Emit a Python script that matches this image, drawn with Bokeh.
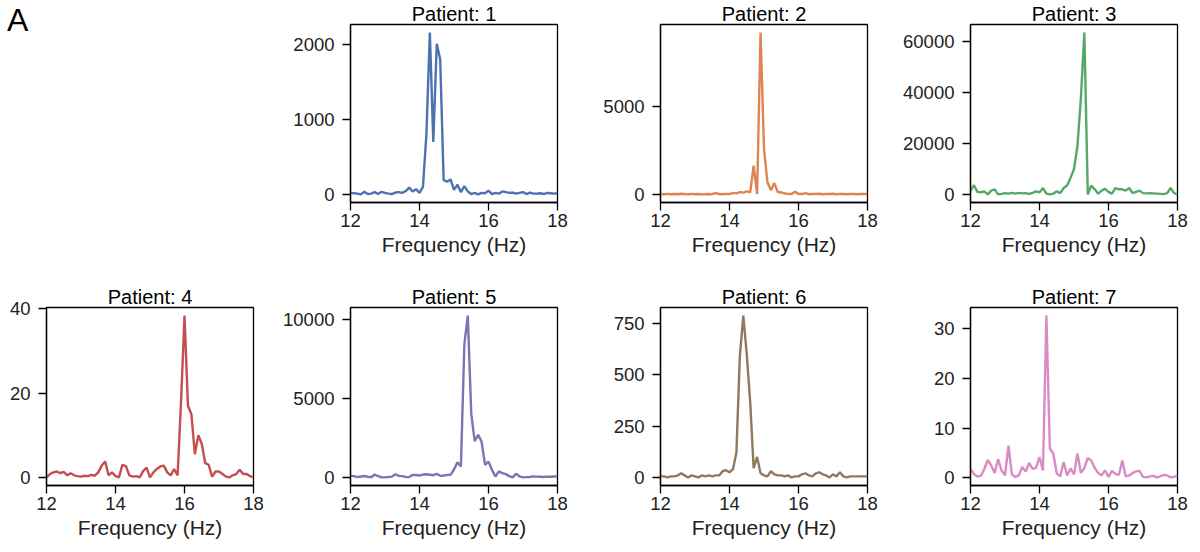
from bokeh.plotting import figure
from bokeh.layouts import column, row
from bokeh.models import Range1d, FixedTicker, Div
from bokeh.embed import file_html
from bokeh.resources import INLINE

# ---------------- data ----------------
freq = [round(12 + 0.1 * i, 1) for i in range(61)]

patient_1 = [20, 15, 10, 0, 35, 5, 10, 30, 5, 35,
             20, 10, 5, 25, 30, 20, 45, 90, 40, 70,
             20, 100, 800, 2160, 700, 2010, 1800, 190, 170, 200,
             60, 130, 30, 110, 40, 5, 20, 0, 20, 15,
             50, 5, 20, 10, 40, 30, 20, 25, 10, 20,
             30, 5, 25, 10, 10, 15, 5, 20, 15, 10,
             15]

patient_2 = [30, 20, 40, 20, 30, 20, 50, 30, 20, 40,
             20, 30, 10, 20, 30, 20, 90, 30, 20, 40,
             30, 100, 70, 140, 110, 180, 120, 1650, 30, 9200,
             2600, 700, 250, 650, 150, 120, 60, 40, 30, 160,
             40, 30, 80, 20, 40, 30, 50, 20, 40, 30,
             50, 20, 40, 30, 20, 30, 40, 20, 30, 40,
             30]

patient_3 = [1500, 3600, 1000, 800, 1200, 0, 1500, 2000, 0, 200,
             500, 300, 600, 300, 600, 400, 500, 200, 600, 1200,
             800, 2500, 300, 0, 300, 1200, 500, 2500, 3500, 6500,
             10000, 19000, 38000, 63600, 0, 3500, 2000, 300, 1500, 2200,
             1000, 300, 2500, 2000, 2000, 1500, 2500, 500, 1000, 1500,
             500, 400, 500, 400, 300, 200, 100, 500, 2500, 500,
             0]

patient_4 = [0.0, 0.8, 1.2, 1.4, 1.0, 1.3, 0.5, 1.0, 0.5, 0.3,
             0.2, 0.4, 0.3, 0.6, 0.4, 1.2, 2.8, 3.8, 0.5, 1.2,
             0.3, 0.0, 3.0, 2.7, 0.5, 0.2, 0.3, 0.0, 1.5, 2.3,
             0.0, 1.2, 2.0, 2.6, 2.8, 1.2, 0.5, 2.0, 0.5, 18.0,
             38.4, 17.0, 15.0, 5.5, 10.0, 8.0, 3.4, 3.0, 0.2, 1.4,
             1.4, 0.8, 0.2, 0.0, 0.5, 0.8, 1.8, 0.8, 0.8, 0.3,
             0.0]

patient_5 = [100, 80, 20, 60, 90, 40, 10, 180, 80, 10,
             0, 30, 50, 200, 100, 80, 30, 20, 160, 150,
             120, 180, 200, 170, 140, 230, 100, 120, 150, 160,
             500, 960, 690, 8430, 10250, 4040, 2300, 2700, 2250, 800,
             1000, 480, 60, 380, 270, 210, 80, 0, 230, 60,
             0, 20, 30, 60, 50, 40, 30, 50, 40, 60,
             50]

patient_6 = [5, 5, 0, 5, 5, 10, 20, 10, 0, 10,
             5, 0, 10, 5, 10, 5, 10, 10, 30, 35,
             25, 40, 120, 590, 788, 600, 367, 45, 100, 20,
             10, 5, 30, 15, 10, 10, 5, 10, 0, 5,
             5, 15, 20, 10, 5, 20, 25, 15, 10, 0,
             15, 5, 25, 5, 0, 5, 5, 5, 5, 5,
             5]

patient_7 = [1.8, 0.8, 0.3, 0.4, 1.8, 3.6, 2.5, 1.0, 3.8, 1.5,
             0.5, 6.5, 0.7, 0.2, 0.5, 2.2, 1.3, 3.0, 1.8, 2.0,
             4.2, 1.5, 32.6, 5.9, 4.9, 0.9, 0.3, 3.2, 0.5, 1.9,
             0.7, 4.9, 1.0, 2.0, 4.0, 3.5, 2.0, 1.0, 0.5, 1.5,
             0.2, 1.4, 0.8, 0.6, 3.5, 0.3, 0.5, 1.0, 1.3, 1.4,
             0.2, 0.1, 0.3, 0.4, 0.1, 0.3, 0.6, 0.5, 0.1, 0.2,
             0.5]

titles = ["Patient: 1", "Patient: 2", "Patient: 3", "Patient: 4",
          "Patient: 5", "Patient: 6", "Patient: 7"]
series = [patient_1, patient_2, patient_3, patient_4, patient_5, patient_6, patient_7]
colors = ["#4C72B0", "#DD8452", "#55A868", "#C44E52", "#8172B3", "#937860", "#DA8BC3"]
y_ticks = [[0, 1000, 2000], [0, 5000], [0, 20000, 40000, 60000], [0, 20, 40],
           [0, 5000, 10000], [0, 250, 500, 750], [0, 10, 20, 30]]
x_ticks = [12, 14, 16, 18]
x_label = "Frequency (Hz)"
panel_letter = "A"

# ---------------- style ----------------
FONT = "Liberation Sans"
FW, FH = 207, 178
LEFT = [46, 75, 75, 75]
RIGHT = [22, 28, 28, 20]
T1, B1 = 24, 81
T2, B2 = 24, 60


def make_panel(title, y, color, yt, col, top, bottom):
    lo, hi = min(y), max(y)
    pad = 0.05 * (hi - lo)
    p = figure(frame_width=FW, frame_height=FH, output_backend="svg",
               toolbar_location=None,
               x_range=Range1d(12, 18), y_range=Range1d(lo - pad, hi + pad),
               min_border_left=LEFT[col], min_border_right=RIGHT[col],
               min_border_top=top, min_border_bottom=bottom,
               title=title)
    p.title.align = "center"
    p.title.text_font = FONT
    p.title.text_font_size = "20px"
    p.title.text_font_style = "normal"
    p.title.text_color = "black"
    p.title.standoff = -1
    p.xgrid.visible = False
    p.ygrid.visible = False
    p.outline_line_color = "black"
    p.outline_line_width = 1.3
    p.outline_line_alpha = 1.0
    p.background_fill_color = "white"
    p.border_fill_color = "white"
    for ax in (p.xaxis[0], p.yaxis[0]):
        ax.axis_line_color = "black"
        ax.axis_line_width = 1.3
        ax.major_tick_line_color = "black"
        ax.major_tick_line_width = 1.3
        ax.major_tick_in = 0
        ax.major_tick_out = 8
        ax.minor_tick_in = 0
        ax.minor_tick_out = 0
        ax.major_label_text_font = FONT
        ax.major_label_text_font_size = "18.5px"
        ax.major_label_text_color = "#222222"
    p.xaxis.ticker = FixedTicker(ticks=x_ticks)
    p.yaxis.ticker = FixedTicker(ticks=yt)
    p.xaxis.major_label_standoff = 3
    p.yaxis.major_label_standoff = 8
    p.xaxis.axis_label = x_label
    p.xaxis.axis_label_text_font = FONT
    p.xaxis.axis_label_text_font_size = "21px"
    p.xaxis.axis_label_text_font_style = "normal"
    p.xaxis.axis_label_text_color = "#222222"
    p.xaxis.axis_label_standoff = 3
    p.line(freq, y, line_color=color, line_width=2.4)
    return p


BW, BH = LEFT[0] + FW + RIGHT[0], T1 + FH + B1
blank = Div(text=panel_letter, width=BW, height=BH, margin=0,
            styles={"font-family": FONT, "font-size": "32px", "color": "black",
                    "line-height": "1", "padding-left": "7px", "padding-top": "4px",
                    "box-sizing": "border-box"})

row1 = [blank]
for i in range(3):
    row1.append(make_panel(titles[i], series[i], colors[i], y_ticks[i], i + 1, T1, B1))
row2 = []
for i in range(3, 7):
    row2.append(make_panel(titles[i], series[i], colors[i], y_ticks[i], i - 3, T2, B2))

layout = column(row(*row1, spacing=0), row(*row2, spacing=0), spacing=0)

open("out.html", "w").write(file_html(layout, INLINE))
